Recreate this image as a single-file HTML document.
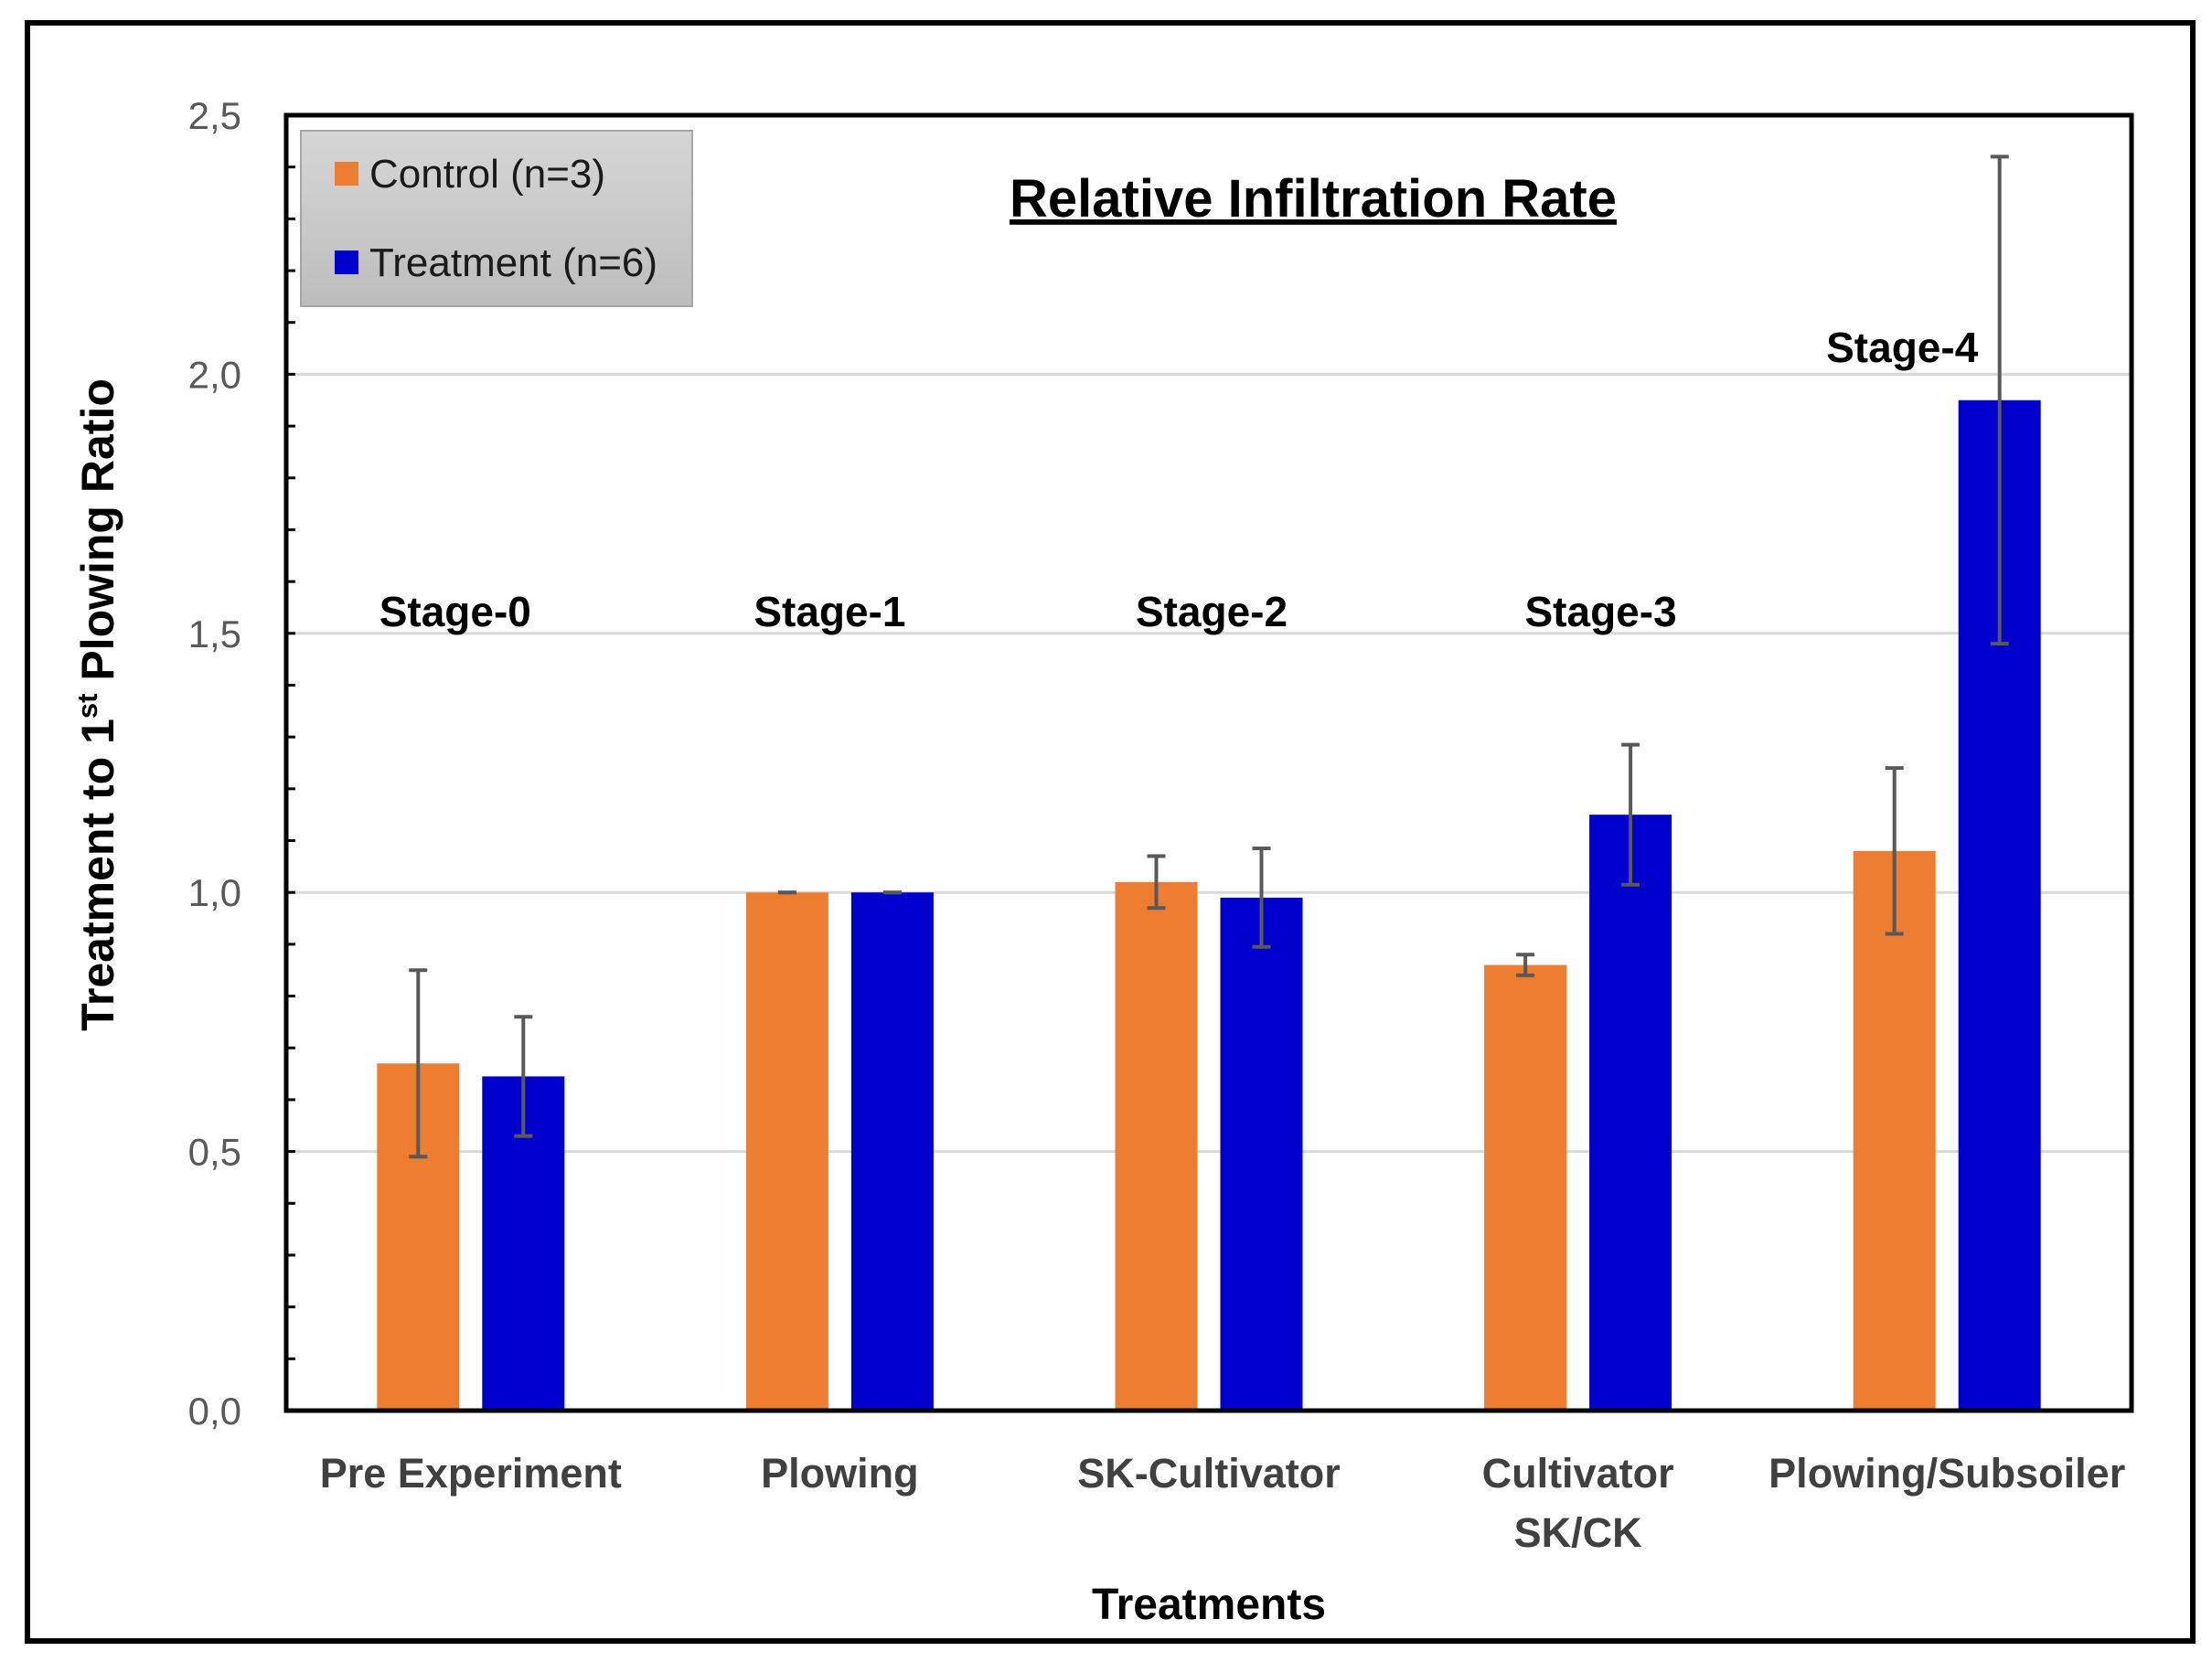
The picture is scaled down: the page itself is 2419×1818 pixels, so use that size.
<!DOCTYPE html>
<html><head><meta charset="utf-8"><style>
html,body{margin:0;padding:0;background:#fff;width:2419px;height:1818px;overflow:hidden}
svg{display:block}
</style></head><body>
<svg id="chart" width="2419" height="1818" viewBox="0 0 2419 1818" xmlns="http://www.w3.org/2000/svg">
<rect x="30" y="25" width="2368" height="1770" fill="#fff" stroke="#000" stroke-width="6"/>
<g id="grid"></g>
<g id="bars"></g>
<g id="errs"></g>
<rect x="313" y="126" width="2018" height="1417" fill="none" stroke="#000" stroke-width="5"/>
<g id="ticks"></g>
<g id="xlabels"></g>
<g id="stages"></g>
<text x="1436" y="237" text-anchor="middle" font-family="Liberation Sans, sans-serif" font-weight="bold" font-size="58" fill="#000" text-decoration="underline">Relative Infiltration Rate</text>
<text x="1322" y="1771" text-anchor="middle" font-family="Liberation Sans, sans-serif" font-weight="bold" font-size="48" fill="#000">Treatments</text>
<text transform="translate(124,771) rotate(-90)" text-anchor="middle" font-family="Liberation Sans, sans-serif" font-weight="bold" font-size="50" fill="#000">Treatment to 1<tspan font-size="31" dy="-18">st</tspan><tspan dy="18"> Plowing Ratio</tspan></text>
<defs><linearGradient id="lg" x1="0" y1="0" x2="0" y2="1"><stop offset="0" stop-color="#d6d6d6"/><stop offset="1" stop-color="#bdbdbd"/></linearGradient></defs>
<g>
<rect x="329" y="143" width="428" height="192" fill="url(#lg)" stroke="#a6a6a6" stroke-width="2"/>
<rect x="366" y="177" width="26" height="26" fill="#ED7D31"/>
<text x="404" y="205" font-family="Liberation Sans, sans-serif" font-size="44" fill="#1a1a1a">Control (n=3)</text>
<rect x="366" y="274" width="26" height="26" fill="#0000CC"/>
<text x="404" y="302" font-family="Liberation Sans, sans-serif" font-size="44" fill="#1a1a1a">Treatment (n=6)</text>
</g>
</svg>
<script>
const categories = [["Pre Experiment"],["Plowing"],["SK-Cultivator"],["Cultivator","SK/CK"],["Plowing/Subsoiler"]];
const controlValues = [0.67, 1.0, 1.02, 0.86, 1.08];
const controlErrors = [0.18, 0.0, 0.05, 0.02, 0.16];
const treatmentValues = [0.645, 1.0, 0.99, 1.15, 1.95];
const treatmentErrors = [0.115, 0.0, 0.095, 0.135, 0.47];
const stageLabels = ["Stage-0","Stage-1","Stage-2","Stage-3","Stage-4"];
const stageLevels = [1.54, 1.54, 1.54, 1.54, 2.05];
const yTicks = [0, 0.5, 1.0, 1.5, 2.0, 2.5];
const yTickLabels = ["0,0","0,5","1,0","1,5","2,0","2,5"];

const NS = "http://www.w3.org/2000/svg";
const L = 313, R = 2331, T = 126, B = 1543, YMAX = 2.5;
const y = v => B - v / YMAX * (B - T);
const band = (R - L) / categories.length;
const cx = i => L + band * (i + 0.5);
const BW = 90, GAP = 25;
const stageShift = [-17, -11, 3, 25, -49];
function mk(tag, attrs, parent) { const e = document.createElementNS(NS, tag); for (const k in attrs) e.setAttribute(k, attrs[k]); parent.appendChild(e); return e; }
const grid = document.getElementById('grid'), bars = document.getElementById('bars'), errs = document.getElementById('errs'), ticks = document.getElementById('ticks'), xl = document.getElementById('xlabels'), st = document.getElementById('stages');

yTicks.forEach((v, i) => {
  if (v > 0 && v < YMAX) {
    const g = mk('line', {x1: L, x2: R, y1: y(v), y2: y(v), stroke: '#d9d9d9', 'stroke-width': 3}, grid);
    
    
  }
  const t = mk('text', {x: 264, y: y(v) + 15, 'text-anchor': 'end', 'font-family': 'Liberation Sans, sans-serif', 'font-size': 42, fill: '#595959'}, ticks);
  t.textContent = yTickLabels[i];
  
  
});
for (let k = 1; k < 25; k++) {
  const v = k * 0.1;
  const tk = mk('line', {x1: L, x2: L + 10, y1: y(v), y2: y(v), stroke: '#000', 'stroke-width': 3}, ticks);
  
  
}
function errBar(x, v, e) {
  const g = mk('g', {stroke: '#595959', 'stroke-width': 4}, errs);
  
  
  mk('line', {x1: x, x2: x, y1: y(v + e), y2: y(v - e)}, g);
  mk('line', {x1: x - 10, x2: x + 10, y1: y(v + e), y2: y(v + e)}, g);
  mk('line', {x1: x - 10, x2: x + 10, y1: y(v - e), y2: y(v - e)}, g);
}
categories.forEach((c, i) => {
  const xc = cx(i) - GAP / 2 - BW, xt = cx(i) + GAP / 2;
  const b1 = mk('rect', {x: xc, y: y(controlValues[i]), width: BW, height: B - y(controlValues[i]), fill: '#ED7D31'}, bars);
  
  
  const b2 = mk('rect', {x: xt, y: y(treatmentValues[i]), width: BW, height: B - y(treatmentValues[i]), fill: '#0000CC'}, bars);
  
  
  errBar(xc + BW / 2, controlValues[i], controlErrors[i]);
  errBar(xt + BW / 2, treatmentValues[i], treatmentErrors[i]);
  c.forEach((line, j) => {
    const t = mk('text', {x: cx(i), y: 1627 + j * 65, 'text-anchor': 'middle', 'font-family': 'Liberation Sans, sans-serif', 'font-weight': 'bold', 'font-size': 45, fill: '#404040'}, xl);
    t.textContent = line;
    
    
  });
  const s = mk('text', {x: cx(i) + stageShift[i], y: y(stageLevels[i]) + 15, 'text-anchor': 'middle', 'font-family': 'Liberation Sans, sans-serif', 'font-weight': 'bold', 'font-size': 46, fill: '#000'}, st);
  s.textContent = stageLabels[i];
  
  
});
</script>
</body></html>
